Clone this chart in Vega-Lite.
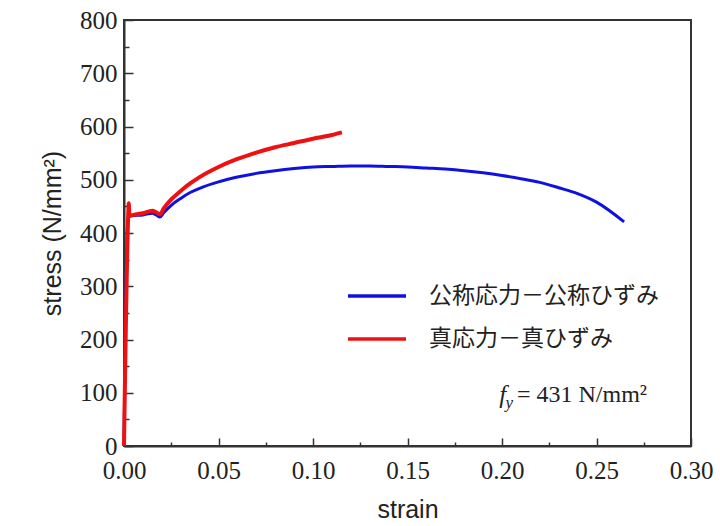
{
  "$schema": "https://vega.github.io/schema/vega-lite/v6.json",
  "autosize": "none",
  "padding": {"left": 124, "top": 20, "right": 29, "bottom": 80},
  "width": 567,
  "height": 426,
  "background": "white",
  "config": {
    "view": {"stroke": "#333", "strokeWidth": 2},
    "axis": {
      "grid": false,
      "domainColor": "#333",
      "domainWidth": 2,
      "tickColor": "#333",
      "tickWidth": 1.5,
      "labelFont": "Liberation Serif",
      "labelFontSize": 25,
      "labelColor": "#222",
      "titleFont": "Liberation Sans",
      "titleFontSize": 25,
      "titleFontWeight": "normal",
      "titleColor": "#222",
      "labelOverlap": false,
      "labelFlush": false
    }
  },
  "datasets": {
    "curves": [
      {"strain": 0, "stress": 0, "series": "公称応力－公称ひずみ"},
      {"strain": 0.0022, "stress": 432, "series": "公称応力－公称ひずみ"},
      {"strain": 0.005, "stress": 433, "series": "公称応力－公称ひずみ"},
      {"strain": 0.01, "stress": 434, "series": "公称応力－公称ひずみ"},
      {"strain": 0.015, "stress": 437, "series": "公称応力－公称ひずみ"},
      {"strain": 0.017, "stress": 434, "series": "公称応力－公称ひずみ"},
      {"strain": 0.019, "stress": 430, "series": "公称応力－公称ひずみ"},
      {"strain": 0.021, "stress": 438, "series": "公称応力－公称ひずみ"},
      {"strain": 0.025, "stress": 452, "series": "公称応力－公称ひずみ"},
      {"strain": 0.03, "stress": 465, "series": "公称応力－公称ひずみ"},
      {"strain": 0.035, "stress": 476, "series": "公称応力－公称ひずみ"},
      {"strain": 0.04, "stress": 484, "series": "公称応力－公称ひずみ"},
      {"strain": 0.05, "stress": 496, "series": "公称応力－公称ひずみ"},
      {"strain": 0.06, "stress": 505, "series": "公称応力－公称ひずみ"},
      {"strain": 0.07, "stress": 512, "series": "公称応力－公称ひずみ"},
      {"strain": 0.08, "stress": 517, "series": "公称応力－公称ひずみ"},
      {"strain": 0.09, "stress": 521, "series": "公称応力－公称ひずみ"},
      {"strain": 0.1, "stress": 524, "series": "公称応力－公称ひずみ"},
      {"strain": 0.11, "stress": 525, "series": "公称応力－公称ひずみ"},
      {"strain": 0.12, "stress": 526, "series": "公称応力－公称ひずみ"},
      {"strain": 0.13, "stress": 526, "series": "公称応力－公称ひずみ"},
      {"strain": 0.14, "stress": 525, "series": "公称応力－公称ひずみ"},
      {"strain": 0.15, "stress": 524, "series": "公称応力－公称ひずみ"},
      {"strain": 0.16, "stress": 522, "series": "公称応力－公称ひずみ"},
      {"strain": 0.17, "stress": 520, "series": "公称応力－公称ひずみ"},
      {"strain": 0.18, "stress": 517, "series": "公称応力－公称ひずみ"},
      {"strain": 0.19, "stress": 513, "series": "公称応力－公称ひずみ"},
      {"strain": 0.2, "stress": 508, "series": "公称応力－公称ひずみ"},
      {"strain": 0.21, "stress": 502, "series": "公称応力－公称ひずみ"},
      {"strain": 0.22, "stress": 495, "series": "公称応力－公称ひずみ"},
      {"strain": 0.23, "stress": 485, "series": "公称応力－公称ひずみ"},
      {"strain": 0.24, "stress": 474, "series": "公称応力－公称ひずみ"},
      {"strain": 0.25, "stress": 458, "series": "公称応力－公称ひずみ"},
      {"strain": 0.2646, "stress": 421, "series": "公称応力－公称ひずみ"},
      {"strain": 0, "stress": 0, "series": "真応力－真ひずみ"},
      {"strain": 0.0023, "stress": 440, "series": "真応力－真ひずみ"},
      {"strain": 0.0025, "stress": 456, "series": "真応力－真ひずみ"},
      {"strain": 0.0029, "stress": 432, "series": "真応力－真ひずみ"},
      {"strain": 0.005, "stress": 434, "series": "真応力－真ひずみ"},
      {"strain": 0.01, "stress": 437, "series": "真応力－真ひずみ"},
      {"strain": 0.015, "stress": 442, "series": "真応力－真ひずみ"},
      {"strain": 0.017, "stress": 439, "series": "真応力－真ひずみ"},
      {"strain": 0.019, "stress": 435, "series": "真応力－真ひずみ"},
      {"strain": 0.021, "stress": 446, "series": "真応力－真ひずみ"},
      {"strain": 0.025, "stress": 463, "series": "真応力－真ひずみ"},
      {"strain": 0.03, "stress": 479, "series": "真応力－真ひずみ"},
      {"strain": 0.035, "stress": 493, "series": "真応力－真ひずみ"},
      {"strain": 0.04, "stress": 505, "series": "真応力－真ひずみ"},
      {"strain": 0.05, "stress": 524, "series": "真応力－真ひずみ"},
      {"strain": 0.06, "stress": 539, "series": "真応力－真ひずみ"},
      {"strain": 0.07, "stress": 551, "series": "真応力－真ひずみ"},
      {"strain": 0.08, "stress": 561, "series": "真応力－真ひずみ"},
      {"strain": 0.09, "stress": 569, "series": "真応力－真ひずみ"},
      {"strain": 0.1, "stress": 577, "series": "真応力－真ひずみ"},
      {"strain": 0.11, "stress": 584, "series": "真応力－真ひずみ"},
      {"strain": 0.1153, "stress": 589, "series": "真応力－真ひずみ"}
    ]
  },
  "resolve": {"axis": {"x": "independent", "y": "independent"}},
  "layer": [
    {
      "data": {"name": "curves"},
      "transform": [{"filter": "datum.series == '公称応力－公称ひずみ'"}],
      "mark": {"type": "line", "strokeWidth": 3, "interpolate": "monotone"},
      "encoding": {
        "x": {
          "field": "strain", "type": "quantitative",
          "scale": {"domain": [0, 0.3], "nice": false},
          "axis": {
            "orient": "bottom",
            "title": "strain",
            "values": [0, 0.05, 0.1, 0.15, 0.2, 0.25, 0.3],
            "format": ".2f",
            "tickSize": -8,
            "labelPadding": 20,
            "titlePadding": 14
          }
        },
        "y": {
          "field": "stress", "type": "quantitative",
          "scale": {"domain": [0, 800], "nice": false},
          "axis": {
            "orient": "left",
            "title": "stress (N/mm²)",
            "values": [0, 100, 200, 300, 400, 500, 600, 700, 800],
            "format": "d",
            "tickSize": -9,
            "labelPadding": 16,
            "titlePadding": 14
          }
        },
        "color": {
          "field": "series", "type": "nominal",
          "scale": {"domain": ["公称応力－公称ひずみ", "真応力－真ひずみ"], "range": ["#1010e0", "#ee1111"]},
          "legend": {
            "title": null,
            "orient": "none",
            "legendX": 222,
            "legendY": 245,
            "symbolType": "stroke",
            "symbolSize": 3364,
            "symbolStrokeWidth": 3.5,
            "labelFont": "Noto Sans CJK JP",
            "labelFontSize": 23,
            "labelColor": "#222",
            "labelOffset": 21,
            "rowPadding": -8,
            "padding": 0,
            "labelLimit": 400
          }
        }
      }
    },
    {
      "data": {"name": "curves"},
      "transform": [{"filter": "datum.series == '真応力－真ひずみ'"}],
      "mark": {"type": "line", "strokeWidth": 4, "interpolate": "monotone"},
      "encoding": {
        "x": {
          "field": "strain", "type": "quantitative",
          "axis": {
            "orient": "bottom",
            "title": null,
            "values": [0.025, 0.075, 0.125, 0.175, 0.225, 0.275],
            "labels": false,
            "domain": false,
            "tickSize": -4
          }
        },
        "y": {
          "field": "stress", "type": "quantitative",
          "axis": {
            "orient": "left",
            "title": null,
            "values": [50, 150, 250, 350, 450, 550, 650, 750],
            "labels": false,
            "domain": false,
            "tickSize": -5
          }
        },
        "color": {"field": "series", "type": "nominal"}
      }
    },
    {
      "data": {"values": [{}]},
      "mark": {"type": "text", "font": "Liberation Serif", "fontSize": 25, "fontStyle": "italic", "align": "left", "baseline": "middle", "color": "#222"},
      "encoding": {"x": {"datum": 0.1985, "axis": null}, "y": {"datum": 96, "axis": null}, "text": {"value": "f"}}
    },
    {
      "data": {"values": [{}]},
      "mark": {"type": "text", "font": "Liberation Serif", "fontSize": 17, "fontStyle": "italic", "align": "left", "baseline": "middle", "color": "#222"},
      "encoding": {"x": {"datum": 0.2018, "axis": null}, "y": {"datum": 80, "axis": null}, "text": {"value": "y"}}
    },
    {
      "data": {"values": [{}]},
      "mark": {"type": "text", "font": "Liberation Serif", "fontSize": 24, "align": "left", "baseline": "middle", "color": "#222"},
      "encoding": {"x": {"datum": 0.2079, "axis": null}, "y": {"datum": 96, "axis": null}, "text": {"value": "= 431 N/mm²"}}
    }
  ]
}
